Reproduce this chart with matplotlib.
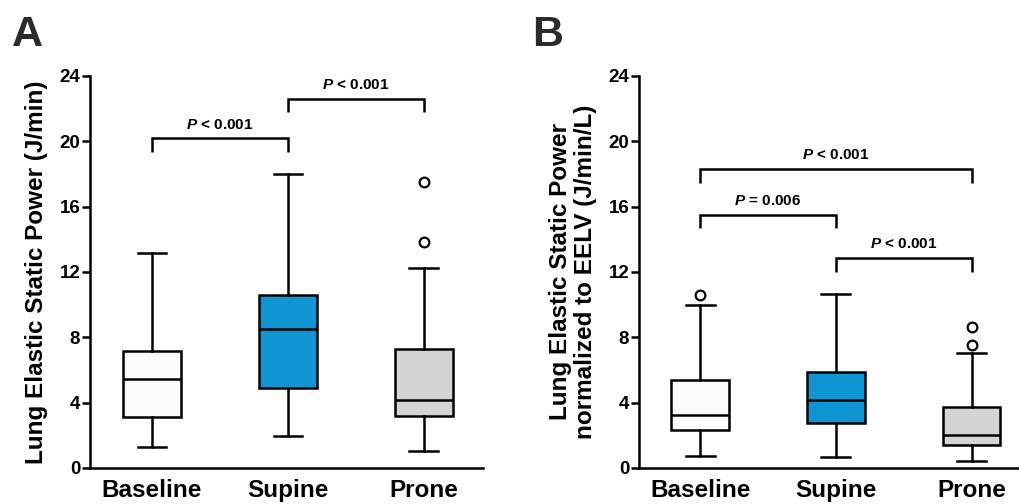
import matplotlib
matplotlib.use("Agg")
import matplotlib.pyplot as plt

plt.rcParams['font.family'] = ['Liberation Sans', 'DejaVu Sans']
plt.rcParams['font.weight'] = 'bold'
plt.rcParams['mathtext.fontset'] = 'custom'
plt.rcParams['mathtext.it'] = 'Liberation Sans:italic:bold'
plt.rcParams['mathtext.rm'] = 'Liberation Sans:bold'
plt.rcParams['mathtext.bf'] = 'Liberation Sans:bold'

categories = ["Baseline", "Supine", "Prone"]
colors = ["#fbfbfb", "#0f96d2", "#d4d4d4"]
yticks = [0, 4, 8, 12, 16, 20, 24]

# Panel A: Lung elastic static power (J/min)
a_whislo = [1.27, 1.96, 1.04]
a_q1 = [3.14, 4.90, 3.20]
a_med = [5.43, 8.49, 4.16]
a_q3 = [7.18, 10.57, 7.29]
a_whishi = [13.14, 18.0, 12.27]
a_fliers = [[], [], [13.82, 17.51]]
a_brackets = [(0, 1, 20.18, "$\\mathit{P}$ < 0.001"), (1, 2, 22.61, "$\\mathit{P}$ < 0.001")]

# Panel B: normalized to EELV (J/min/L)
b_whislo = [0.73, 0.65, 0.43]
b_q1 = [2.33, 2.73, 1.43]
b_med = [3.27, 4.16, 2.02]
b_q3 = [5.39, 5.90, 3.71]
b_whishi = [10.0, 10.63, 7.04]
b_fliers = [[10.61], [], [7.53, 8.65]]
b_brackets = [(0, 2, 18.29, "$\\mathit{P}$ < 0.001"), (0, 1, 15.49, "$\\mathit{P}$ = 0.006"),
              (1, 2, 12.84, "$\\mathit{P}$ < 0.001")]

fig = plt.figure(figsize=(10.19, 5.04), dpi=100)
axA = fig.add_axes([90/1019, 36/504, 393/1019, 392/504])
axB = fig.add_axes([639/1019, 36/504, 380/1019, 392/504])

LW = 1.8

def draw(ax, lo, q1, med, q3, hi, fl, brackets, xlim):
    stats = []
    for i in range(3):
        stats.append(dict(whislo=lo[i], q1=q1[i], med=med[i], q3=q3[i], whishi=hi[i],
                          fliers=fl[i], label=categories[i]))
    bp = ax.bxp(stats, positions=range(3), widths=0.426, patch_artist=True,
                boxprops=dict(linewidth=LW, edgecolor='black'),
                medianprops=dict(linewidth=LW, color='black'),
                whiskerprops=dict(linewidth=LW, color='black'),
                capprops=dict(linewidth=LW, color='black'),
                flierprops=dict(marker='o', markerfacecolor='white', markeredgecolor='black',
                                markersize=7, markeredgewidth=1.6))
    for patch, c in zip(bp['boxes'], colors):
        patch.set_facecolor(c)
    ax.set_xlim(*xlim)
    ax.set_ylim(0, 24)
    ax.set_yticks(yticks)
    ax.set_yticklabels([str(t) for t in yticks], fontsize=13.5, fontweight='bold')
    ax.set_xticks(range(3))
    ax.set_xticklabels(categories, fontsize=17.5, fontweight='bold')
    ax.tick_params(axis='x', length=0, pad=8)
    ax.tick_params(axis='y', length=6, width=LW, pad=1, direction='out')
    for s in ['top', 'right']:
        ax.spines[s].set_visible(False)
    for s in ['left', 'bottom']:
        ax.spines[s].set_linewidth(LW)
    for x0, x1, y, txt in brackets:
        ax.plot([x0, x0, x1, x1], [y - 0.82, y, y, y - 0.82], color='black', lw=LW,
                clip_on=False, solid_capstyle='butt', solid_joinstyle='miter')
        ax.text((x0 + x1) / 2, y + 0.42, txt, ha='center', va='bottom', fontsize=11,
                fontweight='bold')

draw(axA, a_whislo, a_q1, a_med, a_q3, a_whishi, a_fliers, a_brackets, (-0.456, 2.434))
draw(axB, b_whislo, b_q1, b_med, b_q3, b_whishi, b_fliers, b_brackets, (-0.45, 2.35))

axA.set_ylabel("Lung Elastic Static Power (J/min)", fontsize=17.5, fontweight='bold', labelpad=8)
axB.set_ylabel("Lung Elastic Static Power\nnormalized to EELV (J/min/L)", fontsize=17.5,
               fontweight='bold', labelpad=8, linespacing=1.15)

fig.text(12/1019, 1 - 46/504, "A", fontsize=31, fontweight='bold', color='#2b2b2b')
fig.text(532/1019, 1 - 46/504, "B", fontsize=31, fontweight='bold', color='#2b2b2b')

fig.savefig("out.png", dpi=100)
